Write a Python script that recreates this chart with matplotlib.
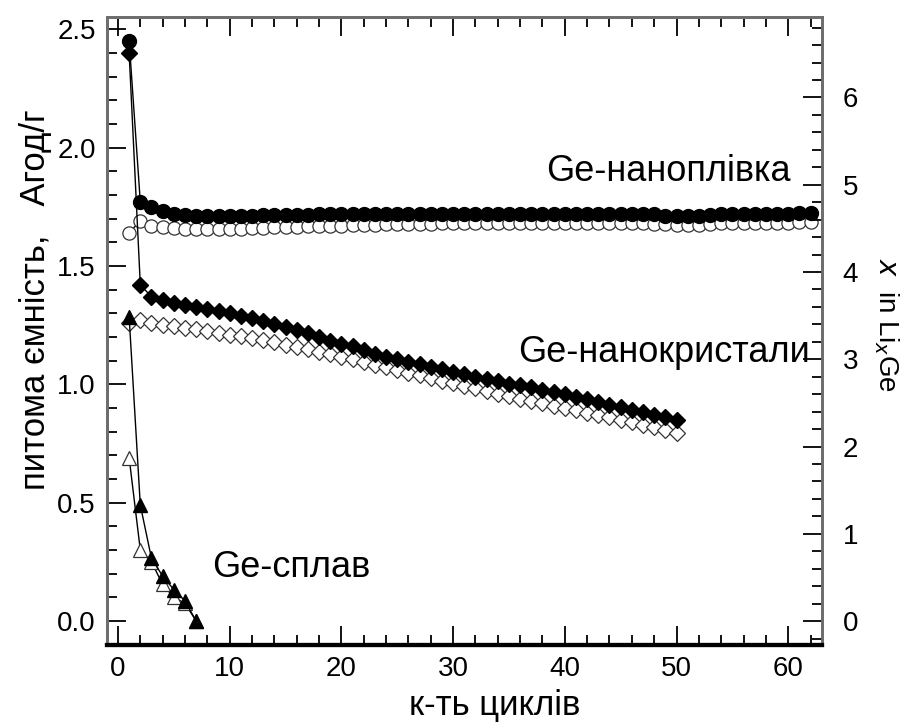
import matplotlib
matplotlib.use("Agg")
import matplotlib.pyplot as plt
from matplotlib.ticker import MultipleLocator, FormatStrFormatter

plt.rcParams['font.family'] = ['Liberation Sans', 'DejaVu Sans']

# Ge nanofilm: charge (filled) and discharge (open), cycles 1..62
film_charge = [2.45, 1.77, 1.75, 1.73, 1.72, 1.715, 1.71, 1.71, 1.71, 1.71,
               1.71, 1.712, 1.715, 1.715, 1.715, 1.717, 1.717, 1.718, 1.718, 1.72,
               1.72, 1.72, 1.72, 1.72, 1.72, 1.72, 1.72, 1.72, 1.72, 1.72,
               1.72, 1.72, 1.72, 1.72, 1.72, 1.72, 1.72, 1.72, 1.72, 1.72,
               1.72, 1.72, 1.72, 1.72, 1.72, 1.72, 1.72, 1.718, 1.712, 1.71,
               1.71, 1.712, 1.715, 1.72, 1.72, 1.72, 1.72, 1.72, 1.72, 1.72,
               1.722, 1.725]
film_discharge = [1.64, 1.69, 1.67, 1.665, 1.66, 1.658, 1.657, 1.657, 1.657, 1.657,
                  1.658, 1.66, 1.662, 1.664, 1.665, 1.666, 1.667, 1.668, 1.669, 1.67,
                  1.672, 1.673, 1.674, 1.675, 1.676, 1.677, 1.678, 1.679, 1.68, 1.68,
                  1.68, 1.68, 1.68, 1.68, 1.68, 1.68, 1.68, 1.68, 1.68, 1.68,
                  1.68, 1.68, 1.68, 1.68, 1.68, 1.68, 1.68, 1.678, 1.675, 1.672,
                  1.672, 1.674, 1.677, 1.68, 1.68, 1.68, 1.68, 1.68, 1.682, 1.683,
                  1.684, 1.685]

# Ge nanocrystals, cycles 1..50
nc_charge = [2.40, 1.42, 1.37, 1.355, 1.345, 1.335, 1.325, 1.316, 1.308, 1.30,
             1.29, 1.279, 1.267, 1.255, 1.243, 1.23, 1.215, 1.20, 1.185, 1.17,
             1.16, 1.145, 1.13, 1.115, 1.105, 1.095, 1.085, 1.075, 1.063, 1.052,
             1.042, 1.032, 1.022, 1.012, 1.003, 0.995, 0.987, 0.977, 0.967, 0.957,
             0.946, 0.936, 0.925, 0.914, 0.903, 0.893, 0.882, 0.872, 0.861, 0.85]
nc_discharge = [1.257, 1.27, 1.26, 1.252, 1.245, 1.238, 1.232, 1.225, 1.218, 1.21,
                1.202, 1.194, 1.186, 1.177, 1.168, 1.158, 1.148, 1.138, 1.128, 1.117,
                1.106, 1.095, 1.083, 1.071, 1.06, 1.049, 1.038, 1.027, 1.016, 1.005,
                0.994, 0.983, 0.972, 0.961, 0.95, 0.94, 0.93, 0.92, 0.91, 0.90,
                0.89, 0.88, 0.87, 0.86, 0.85, 0.84, 0.83, 0.82, 0.808, 0.795]

# Ge alloy, cycles 1..7
alloy_charge = [1.285, 0.49, 0.265, 0.19, 0.133, 0.085, 0.0]
alloy_discharge = [0.69, 0.30, 0.25, 0.155, 0.10, 0.075, 0.0]

film_cycles = list(range(1, len(film_charge) + 1))
nc_cycles = list(range(1, len(nc_charge) + 1))
alloy_cycles = list(range(1, len(alloy_charge) + 1))

labels = ["Ge-наноплівка", "Ge-нанокристали", "Ge-сплав"]
AH_PER_X = 0.3686  # Ah/g per one Li per Ge

fig = plt.figure(figsize=(9.05, 7.22), dpi=100)
ax = fig.add_axes([0.118, 0.107, 0.790, 0.869])

lw = 1.0
# open (discharge) series first, filled on top
ax.plot(film_cycles, film_discharge, '-', color='black', lw=lw, marker='o',
        ms=9.5, mfc='white', mec='#333333', mew=0.9, zorder=2)
ax.plot(film_cycles, film_charge, '-', color='black', lw=lw, marker='o',
        ms=10, mfc='black', mec='black', zorder=3)
ax.plot(nc_cycles, nc_discharge, '-', color='black', lw=lw, marker='D',
        ms=8, mfc='white', mec='#333333', mew=0.9, zorder=2)
ax.plot(nc_cycles, nc_charge, '-', color='black', lw=lw, marker='D',
        ms=8.5, mfc='black', mec='black', zorder=3)
ax.plot(alloy_cycles, alloy_discharge, '-', color='black', lw=lw, marker='^',
        ms=9.5, mfc='white', mec='#333333', mew=0.9, zorder=2)
ax.plot(alloy_cycles, alloy_charge, '-', color='black', lw=lw, marker='^',
        ms=10, mfc='black', mec='black', zorder=3)

ax.set_xlim(-1, 63)
ax.set_ylim(-0.1, 2.55)
ax.xaxis.set_major_locator(MultipleLocator(10))
ax.xaxis.set_minor_locator(MultipleLocator(2))
ax.yaxis.set_major_locator(MultipleLocator(0.5))
ax.yaxis.set_minor_locator(MultipleLocator(0.1))
ax.yaxis.set_major_formatter(FormatStrFormatter('%.1f'))
ax.tick_params(which='both', direction='in', top=True, right=False,
               labelsize=20, color='black', pad=8)
ax.tick_params(which='major', length=14, width=1.3)
ax.tick_params(which='minor', length=7, width=1.3)

ax2 = ax.twinx()
ax2.set_ylim(-0.1 / AH_PER_X, 2.55 / AH_PER_X)
ax2.yaxis.set_major_locator(MultipleLocator(1))
ax2.yaxis.set_minor_locator(MultipleLocator(0.2))
ax2.tick_params(which='both', direction='in', labelsize=20, pad=15)
ax2.tick_params(which='major', length=14, width=1.3)
ax2.tick_params(which='minor', length=7, width=1.3)

for a in (ax, ax2):
    for side in ('left', 'right', 'top'):
        a.spines[side].set_color('#6e6e6e')
        a.spines[side].set_linewidth(2.0)
    a.spines['bottom'].set_color('black')
    a.spines['bottom'].set_linewidth(3.0)

ax.text(38.3, 1.90, labels[0], fontsize=26, ha='left', va='center')
ax.text(35.8, 1.136, labels[1], fontsize=26, ha='left', va='center')
ax.text(8.45, 0.226, labels[2], fontsize=26, ha='left', va='center')

fig.text(36 / 905, 1 - 300 / 722, "питома ємність,   Агод/г", rotation=90,
         fontsize=25, ha='center', va='center')
fig.text(495 / 905, 1 - 706 / 722, "к-ть циклів", fontsize=25,
         ha='center', va='center')
fig.text(886 / 905, 1 - 325 / 722, "$x$  in Li$_x$Ge", rotation=270,
         fontsize=20, ha='center', va='center')

fig.savefig("out.png", dpi=100)
